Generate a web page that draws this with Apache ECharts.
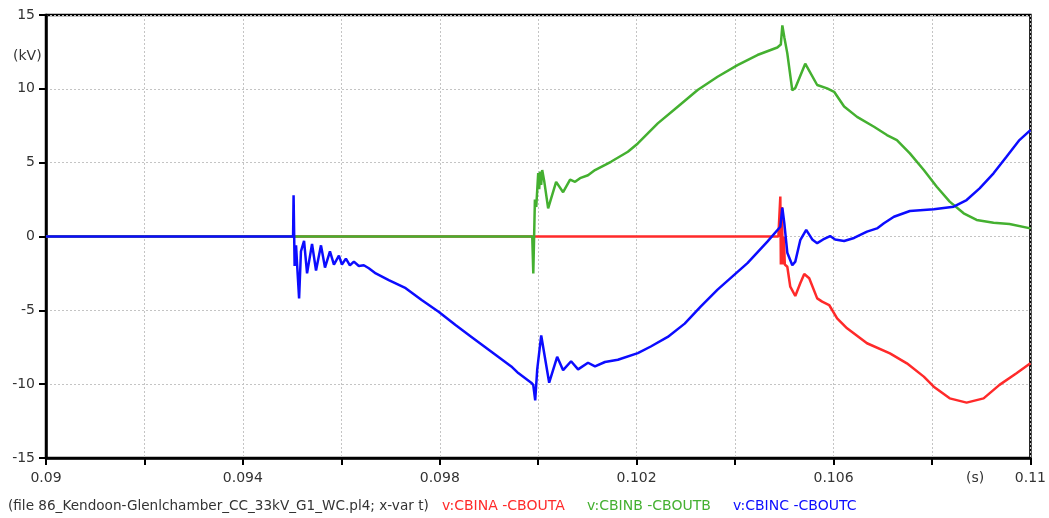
<!DOCTYPE html>
<html>
<head>
<meta charset="utf-8">
<title>CB voltages</title>
<script src="https://cdn.jsdelivr.net/npm/echarts@6/dist/echarts.min.js"></script>
<style>
  html, body { margin: 0; padding: 0; background: #ffffff; }
  #chart { width: 1049px; height: 518px; }
</style>
</head>
<body>
<div id="chart"></div>
<script>
// Breaker voltage traces, time in seconds, voltage in kV
const seriesNames = ['v:CBINA -CBOUTA', 'v:CBINB -CBOUTB', 'v:CBINC -CBOUTC'];
const seriesColors = ['#ff2a2a', '#44b030', '#0c0cff'];
const fileNote = '(file 86_Kendoon-Glenlchamber_CC_33kV_G1_WC.pl4; x-var t)';
const xTickLabels = ['0.09', '0.094', '0.098', '0.102', '0.106', '0.11'];

// phase A
const tA = [0.09, 0.104879, 0.1049, 0.104919, 0.10493, 0.10495, 0.10497, 0.10499, 0.10501, 0.10504,
  0.105061, 0.105121, 0.105223, 0.105324, 0.105405, 0.105506, 0.105668, 0.105769, 0.105911, 0.106073,
  0.106275, 0.10668, 0.107146, 0.10749, 0.107834, 0.108036, 0.10836, 0.108704, 0.109049, 0.109372,
  0.109717, 0.11];
const vA = [0, 0, 0, 2.7, -1.9, 2.0, -1.9, 0, -1.9, -1.9,
  -2.05, -3.4, -4.03, -3.17, -2.54, -2.83, -4.19, -4.41, -4.64, -5.54,
  -6.22, -7.23, -7.91, -8.59, -9.49, -10.17, -10.96, -11.25, -10.96, -10.05,
  -9.26, -8.59];

// phase B
const tB = [0.09, 0.099879, 0.0999, 0.099919, 0.099933, 0.09996, 0.1, 0.10002, 0.10004, 0.10006,
  0.100081, 0.10012, 0.100202, 0.100364, 0.100506, 0.100648, 0.100749, 0.10085, 0.101012, 0.101154,
  0.101478, 0.101822, 0.102024, 0.102429, 0.102834, 0.103239, 0.103644, 0.104049, 0.104453, 0.104858,
  0.104929, 0.10496, 0.105, 0.105061, 0.105162, 0.105223, 0.105425, 0.105668, 0.10587, 0.106012,
  0.106215, 0.106478, 0.106822, 0.107085, 0.107287, 0.107551, 0.107834, 0.108097, 0.10836, 0.108644,
  0.108907, 0.109251, 0.109575, 0.11];
const vB = [0, 0, -2.5, 0.3, 2.5, 2.0, 4.3, 3.2, 4.4, 3.5,
  4.5, 3.8, 1.9, 3.7, 3.0, 3.85, 3.7, 3.95, 4.15, 4.5,
  5.06, 5.74, 6.3, 7.66, 8.79, 9.92, 10.82, 11.6, 12.29, 12.8,
  13.0, 14.3, 13.5, 12.4, 9.9, 10.05, 11.7, 10.26, 10.03, 9.8,
  8.8, 8.1, 7.43, 6.87, 6.53, 5.63, 4.5, 3.37, 2.36, 1.57,
  1.12, 0.93, 0.85, 0.55];

// phase C
const tC = [0.09, 0.09502, 0.09503, 0.095051, 0.09508, 0.0951, 0.095142, 0.09518, 0.095243, 0.095304,
  0.095405, 0.095486, 0.095587, 0.095668, 0.095769, 0.09585, 0.095951, 0.096012, 0.096093, 0.096174,
  0.096255, 0.096356, 0.096457, 0.096559, 0.0967, 0.096964, 0.097308, 0.097632, 0.097976, 0.09832,
  0.098644, 0.099049, 0.099453, 0.099595, 0.099858, 0.099899, 0.099939, 0.09998, 0.100061, 0.100223,
  0.100385, 0.100506, 0.100668, 0.10081, 0.101012, 0.101154, 0.101356, 0.101619, 0.102024, 0.102287,
  0.102632, 0.102976, 0.1033, 0.103644, 0.104251, 0.104656, 0.104919, 0.10496, 0.105, 0.105061,
  0.105162, 0.105223, 0.105324, 0.105445, 0.105567, 0.105668, 0.105789, 0.105931, 0.106032, 0.106215,
  0.106417, 0.10668, 0.106883, 0.107024, 0.107227, 0.107551, 0.108036, 0.108441, 0.108704, 0.108968,
  0.109251, 0.109514, 0.109777, 0.11];
const vC = [0, 0, 2.8, -2.0, -0.6, -1.8, -4.2, -1.0, -0.3, -2.5,
  -0.5, -2.3, -0.6, -2.1, -1.0, -1.9, -1.3, -1.9, -1.5, -1.95,
  -1.7, -2.0, -1.95, -2.15, -2.5, -2.95, -3.5, -4.3, -5.1, -6.0,
  -6.8, -7.8, -8.8, -9.25, -9.9, -10.05, -11.1, -9.0, -6.7, -9.9,
  -8.15, -9.05, -8.45, -9.0, -8.55, -8.8, -8.5, -8.35, -7.9, -7.45,
  -6.8, -5.9, -4.75, -3.6, -1.8, -0.35, 0.66, 1.95, 0.9, -1.1,
  -1.95, -1.7, -0.25, 0.45, -0.2, -0.45, -0.2, 0.03, -0.2, -0.3,
  -0.1, 0.33, 0.55, 0.9, 1.34, 1.73, 1.84, 2.02, 2.47, 3.26,
  4.28, 5.4, 6.53, 7.2];

const pairs = (ts, vs) => ts.map((t, i) => [t, vs[i]]);
const traces = [pairs(tA, vA), pairs(tB, vB), pairs(tC, vC)];

const FONT = 'DejaVu Sans';
const TXT = '#333333';

const chart = echarts.init(document.getElementById('chart'), null, { renderer: 'canvas' });

const option = {
  animation: false,
  backgroundColor: '#ffffff',
  grid: {
    left: 46, right: 15, top: 15, bottom: 60,
    show: true, borderColor: '#000000', borderWidth: 2.5, backgroundColor: 'transparent'
  },
  xAxis: {
    type: 'value',
    min: 0.09, max: 0.11, interval: 0.002,
    axisLine: { show: true, onZero: false, lineStyle: { color: '#000', width: 2.5 } },
    axisTick: { show: true, inside: false, length: 7, lineStyle: { color: '#000', width: 2 } },
    splitLine: { show: true, lineStyle: { color: '#c4c4c4', type: [2, 2], width: 1 } },
    axisLabel: {
      margin: 13, color: TXT, fontFamily: FONT, fontSize: 14,
      showMinLabel: true, showMaxLabel: true,
      formatter: function (v) {
        const s = String(parseFloat(v.toFixed(4)));
        return xTickLabels.indexOf(s) >= 0 ? s : '';
      }
    }
  },
  yAxis: {
    type: 'value',
    min: -15, max: 15, interval: 5,
    axisLine: { show: true, onZero: false, lineStyle: { color: '#000', width: 2.5 } },
    axisTick: { show: true, inside: false, length: 7, lineStyle: { color: '#000', width: 2 } },
    splitLine: { show: true, lineStyle: { color: '#c4c4c4', type: [2, 2], width: 1 } },
    axisLabel: { margin: 11, color: TXT, fontFamily: FONT, fontSize: 14 }
  },
  series: traces.map((d, i) => ({
    name: seriesNames[i],
    type: 'line',
    data: d,
    showSymbol: false,
    symbol: 'none',
    color: seriesColors[i],
    lineStyle: { width: 2.5, color: seriesColors[i] },
    z: 2 + i
  })),
  graphic: [
    { type: 'text', left: 13, top: 49, style: { text: '(kV)', fill: TXT, font: '14px "' + FONT + '"' } },
    { type: 'text', left: 966, top: 471, style: { text: '(s)', fill: TXT, font: '14px "' + FONT + '"' } },
    { type: 'text', left: 8, top: 499, style: { text: fileNote, fill: TXT, font: '13.6px "' + FONT + '"' } },
    { type: 'text', left: 442, top: 499, style: { text: seriesNames[0], fill: seriesColors[0], font: '14px "' + FONT + '"' } },
    { type: 'text', left: 587, top: 499, style: { text: seriesNames[1], fill: seriesColors[1], font: '14px "' + FONT + '"' } },
    { type: 'text', left: 733, top: 499, style: { text: seriesNames[2], fill: seriesColors[2], font: '14px "' + FONT + '"' } }
  ]
};

chart.setOption(option);
</script>
</body>
</html>
